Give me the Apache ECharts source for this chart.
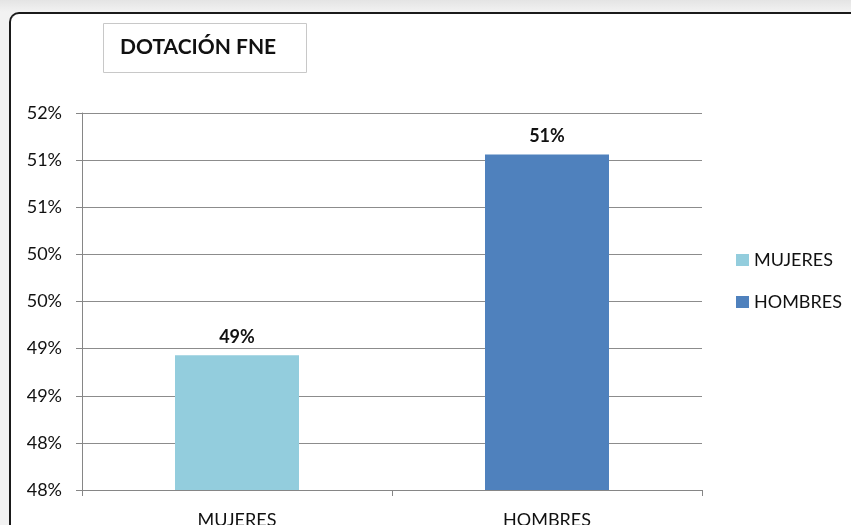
<!DOCTYPE html>
<html>
<head>
<meta charset="utf-8">
<script src="https://cdn.jsdelivr.net/npm/echarts@6/dist/echarts.min.js"></script>
<style>
html, body {
    margin: 0;
    padding: 0;
    width: 851px;
    height: 525px;
    overflow: hidden;
    background: linear-gradient(#e4e4e4, #f2f2f2 12px);
}
.frame {
    position: absolute;
    left: 9px;
    top: 12px;
    width: 860px;
    height: 540px;
    border-top: 2px solid #1a1a1a;
    border-left: 2px solid #1a1a1a;
    border-top-left-radius: 10px;
    background: #fff;
}
#chart {
    position: absolute;
    left: 0;
    top: 0;
    width: 851px;
    height: 525px;
}
</style>
</head>
<body>
<div class="frame"></div>
<div id="chart"></div>
<script>
const categories = ['MUJERES', 'HOMBRES']
const values = [48.93, 51.06]
const colors = ['#93CDDD', '#4F81BD']

const yMin = 47.5
const yMax = 51.5
const yStep = 0.5
const yTickLabels = ['48%', '48%', '49%', '49%', '50%', '50%', '51%', '51%', '52%']

const font = 'Lato, "Open Sans", sans-serif'

const chart = echarts.init(document.getElementById('chart'))

const series = categories.map((name, i) => ({
    name: name,
    type: 'bar',
    barWidth: '40%',
    barGap: '-100%',
    data: categories.map((c, j) => (j === i ? values[i] : '-')),
    itemStyle: { color: colors[i] },
    label: {
        show: true,
        position: 'top',
        distance: 9,
        fontFamily: font,
        fontSize: 18,
        fontWeight: 'bold',
        color: '#111',
        formatter: p => Math.round(p.value) + '%'
    }
}))

chart.setOption({
    animation: false,
    title: {
        text: 'DOTACIÓN FNE',
        left: 103,
        top: 23,
        padding: [14, 31, 15, 17],
        borderColor: '#c8c8c8',
        borderWidth: 1,
        textStyle: {
            fontFamily: font,
            fontSize: 21,
            fontWeight: 'bold',
            color: '#111'
        }
    },
    legend: {
        orient: 'vertical',
        left: 731,
        top: 246,
        itemWidth: 13,
        itemHeight: 12,
        itemGap: 24,
        icon: 'rect',
        textStyle: {
            fontFamily: font,
            fontSize: 18,
            color: '#111'
        },
        data: categories
    },
    grid: {
        left: 82,
        right: 149,
        top: 113,
        bottom: 35,
        outerBoundsMode: 'none'
    },
    xAxis: {
        type: 'category',
        data: categories,
        axisLine: { lineStyle: { color: '#868686', width: 1 } },
        axisTick: { show: true, length: 6, lineStyle: { color: '#868686' } },
        axisLabel: {
            margin: 21,
            fontFamily: font,
            fontSize: 18,
            color: '#111'
        }
    },
    yAxis: {
        type: 'value',
        min: yMin,
        max: yMax,
        interval: yStep,
        axisLine: { show: true, lineStyle: { color: '#868686', width: 1 } },
        axisTick: { show: true, length: 6, lineStyle: { color: '#868686' } },
        splitLine: { lineStyle: { color: '#8c8c8c', width: 1 } },
        axisLabel: {
            margin: 20,
            fontFamily: font,
            fontSize: 18,
            color: '#111',
            formatter: v => yTickLabels[Math.round((v - yMin) / yStep)]
        }
    },
    series: series
})
</script>
</body>
</html>
